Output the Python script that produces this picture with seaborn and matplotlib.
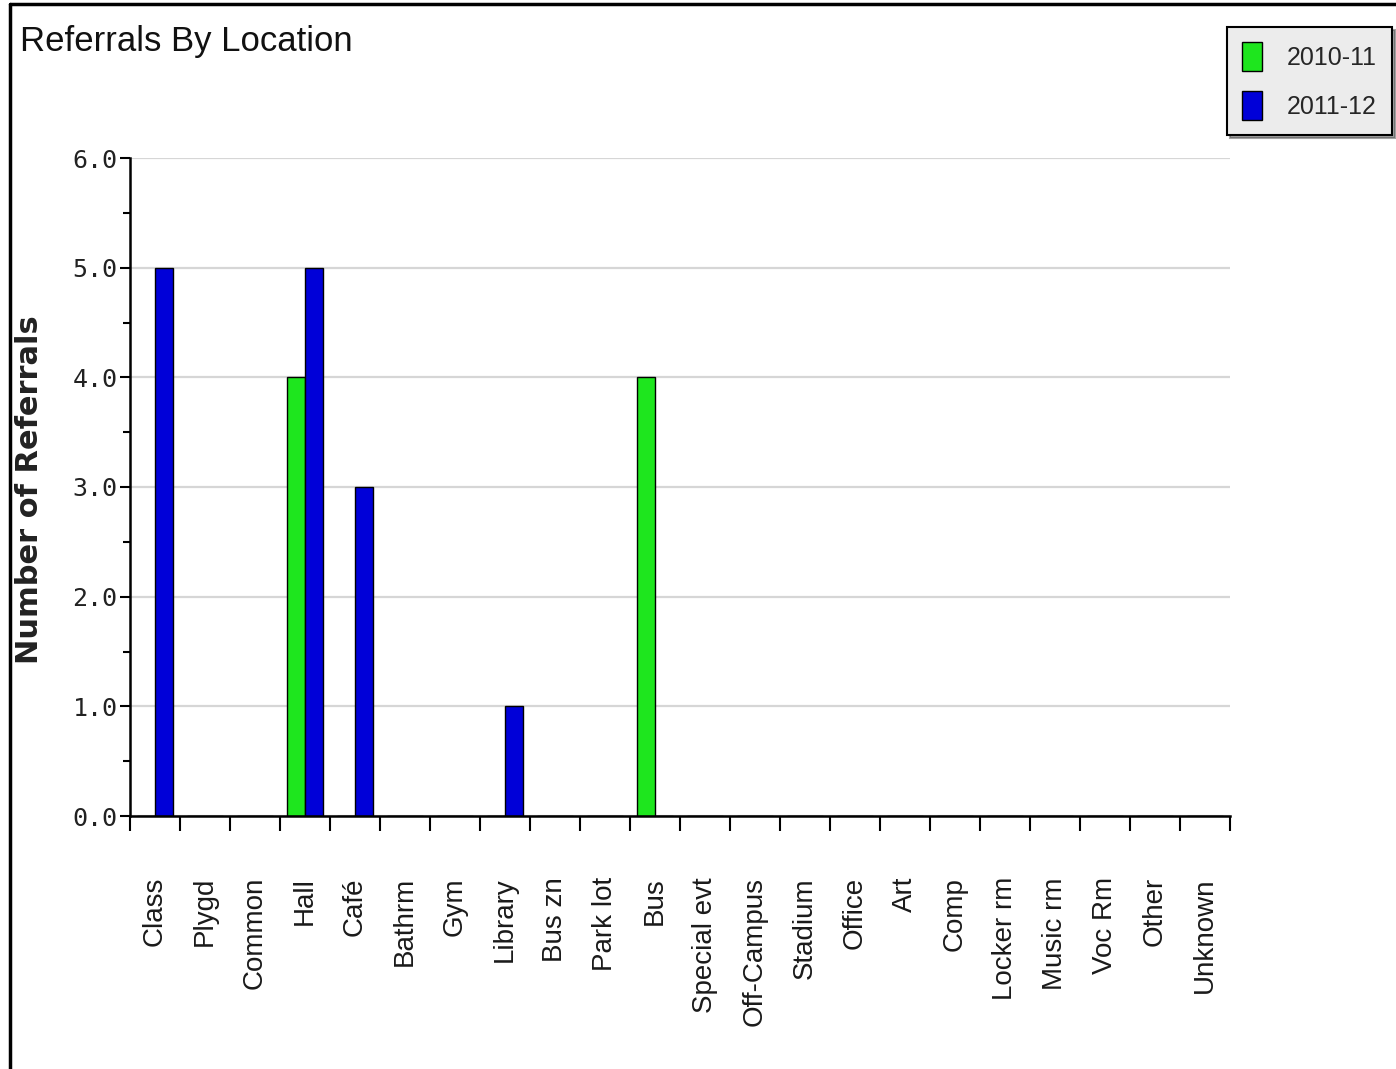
import pandas as pd
import seaborn as sns
import matplotlib.pyplot as plt
from matplotlib.lines import Line2D
from matplotlib.patches import Patch
from matplotlib.ticker import MultipleLocator, FixedLocator

# chart data
locations = ["Class", "Plygd", "Common", "Hall", "Café", "Bathrm", "Gym",
             "Library", "Bus zn", "Park lot", "Bus", "Special evt",
             "Off-Campus", "Stadium", "Office", "Art", "Comp", "Locker rm",
             "Music rm", "Voc Rm", "Other", "Unknown"]
years = ["2010-11", "2011-12"]
refs_2010_11 = [0, 0, 0, 4, 0, 0, 0, 0, 0, 0, 4, 0, 0, 0, 0, 0, 0, 0, 0, 0, 0, 0]
refs_2011_12 = [5, 0, 0, 5, 3, 0, 0, 1, 0, 0, 0, 0, 0, 0, 0, 0, 0, 0, 0, 0, 0, 0]
year_colors = ["#1ee61e", "#0000d8"]

df = pd.DataFrame({
    "Location": locations * 2,
    "Year": [years[0]] * len(locations) + [years[1]] * len(locations),
    "Referrals": refs_2010_11 + refs_2011_12,
})

sns.set_style("white")

W, H = 1396, 1069
fig = plt.figure(figsize=(W / 100, H / 100), dpi=100, facecolor="white")
ax = fig.add_axes([130 / W, 253 / H, 1100 / W, 658 / H])

sns.barplot(data=df, x="Location", y="Referrals", hue="Year",
            order=locations, hue_order=years, palette=year_colors,
            saturation=1, width=0.72, edgecolor="black", linewidth=1,
            legend=False, ax=ax)

ax.set_xlim(-0.5, len(locations) - 0.5)
ax.set_ylim(0, 6)
ax.set_xlabel("")
ax.set_ylabel("")

# y axis: major every 1, minor every 0.5
ax.set_yticks(range(7))
ax.yaxis.set_minor_locator(MultipleLocator(0.5))
ax.set_yticklabels([f"{v:.1f}" for v in range(7)],
                   fontfamily="DejaVu Sans Mono", fontsize=18, color="#222222")
ax.tick_params(axis="y", which="both", left=True)
ax.tick_params(axis="y", which="major", length=7, width=1.5, color="black", pad=2)
ax.tick_params(axis="y", which="minor", length=5, width=1.5, color="black")

# x axis: labels at centers, ticks at boundaries
ax.set_xticks(range(len(locations)))
ax.set_xticklabels(locations, rotation=90, fontfamily="Liberation Sans",
                   fontsize=20, color="#1a1a1a")
ax.xaxis.set_minor_locator(FixedLocator([i - 0.5 for i in range(len(locations) + 1)]))
ax.tick_params(axis="x", which="both", bottom=True)
ax.tick_params(axis="x", which="major", length=0, pad=44)
ax.tick_params(axis="x", which="minor", length=11, width=1.5, color="black")

ax.yaxis.grid(True, color="#d6d6d6", linewidth=1.6)
ax.set_axisbelow(True)
for s in ["top", "right"]:
    ax.spines[s].set_visible(False)
for s in ["left", "bottom"]:
    ax.spines[s].set_color("black")
    ax.spines[s].set_linewidth(1.8)

# titles
fig.text(20 / W, 1 - 42 / H, "Referrals By Location", fontsize=25,
         family="Liberation Sans", va="center", ha="left", color="#111111")
fig.text(30 / W, 1 - 490 / H, "Number of Referrals", fontsize=22,
         fontweight="bold", rotation=90, va="center", ha="center",
         family="DejaVu Sans", color="#222222")

# legend
handles = [Patch(facecolor=c, edgecolor="black", linewidth=1) for c in year_colors]
leg = fig.legend(handles, years, loc="upper right",
                 bbox_to_anchor=(1392 / W, 1 - 27 / H), frameon=True,
                 fancybox=False, shadow=True, handlelength=0.8,
                 handleheight=1.4, handletextpad=1.0, labelspacing=0.8,
                 borderpad=0.6, borderaxespad=0,
                 prop={"family": "Liberation Sans", "size": 18})
leg.get_frame().set_facecolor("#ececec")
leg.get_frame().set_edgecolor("black")
leg.get_frame().set_linewidth(1.5)

# screenshot frame
fig.add_artist(Line2D([10 / W, 10 / W], [0, 1 - 4 / H], color="black",
                      linewidth=2.5, transform=fig.transFigure))
fig.add_artist(Line2D([10 / W, 1], [1 - 4 / H, 1 - 4 / H], color="black",
                      linewidth=2.5, transform=fig.transFigure))

fig.savefig("out.png", dpi=100, facecolor="white")
